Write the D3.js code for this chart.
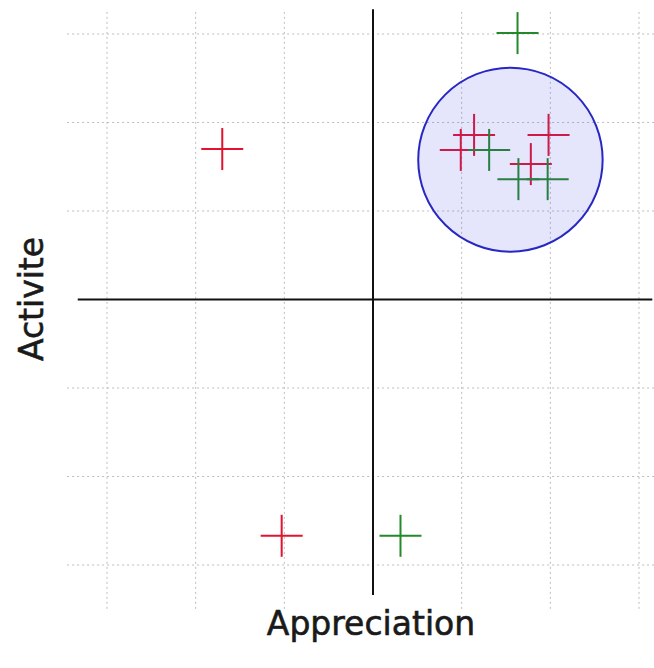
<!DOCTYPE html>
<html>
<head>
<meta charset="utf-8">
<script src="https://cdn.jsdelivr.net/npm/d3@7"></script>
<style>
  html, body { margin: 0; padding: 0; background: #fff; }
  svg { display: block; }
  .grid line { stroke: #bdbdbd; stroke-width: 1; stroke-dasharray: 2,3; }
  .axis-line { stroke: #111; stroke-width: 2; }
  .label { font-family: "DejaVu Sans", sans-serif; font-size: 33px; fill: #1a1a1a; stroke: #1a1a1a; stroke-width: 0.6px; }
</style>
</head>
<body>
<div id="chart"></div>
<script>
// data
const redX = [-1.70, -1.03, 0.99, 1.14, 1.98, 1.78];
const redY = [1.70, -2.67, 1.69, 1.86, 1.86, 1.53];
const greenX = [1.63, 0.31, 1.31, 1.64, 1.97];
const greenY = [3.01, -2.67, 1.69, 1.36, 1.36];
const gridTicks = [-3, -2, -1, 1, 2, 3];
const clusterCenter = [1.55, 1.58];
const clusterRadius = 1.04;
const xLabel = "Appreciation";
const yLabel = "Activite";

document.addEventListener('DOMContentLoaded', function() {
    render();
});

function render() {
    const width = 654, height = 668;

    const svg = d3.select("#chart")
        .append("svg")
        .attr("width", width)
        .attr("height", height);

    const x = d3.scaleLinear().domain([-3, 3]).range([107, 639]);
    const y = d3.scaleLinear().domain([-3, 3]).range([565, 34]);

    // dotted grid
    const grid = svg.append("g").attr("class", "grid");
    grid.selectAll(".gx")
        .data(gridTicks)
        .enter().append("line")
        .attr("x1", d => x(d)).attr("x2", d => x(d))
        .attr("y1", y(3.25)).attr("y2", y(-3.5));
    grid.selectAll(".gy")
        .data(gridTicks)
        .enter().append("line")
        .attr("y1", d => y(d)).attr("y2", d => y(d))
        .attr("x1", x(-3.45)).attr("x2", x(3.6));

    // axes through the origin
    svg.append("line").attr("class", "axis-line")
        .attr("x1", x(-3.33)).attr("x2", x(3.15))
        .attr("y1", y(0)).attr("y2", y(0));
    svg.append("line").attr("class", "axis-line")
        .attr("x1", x(0)).attr("x2", x(0))
        .attr("y1", y(3.28)).attr("y2", y(-3.34));

    const red = redX.map((v, i) => ({x: v, y: redY[i], color: "#e3132f"}));
    const green = greenX.map((v, i) => ({x: v, y: greenY[i], color: "#23892a"}));
    const points = red.concat(green);

    const arm = 21;
    const marks = svg.append("g");
    const cross = marks.selectAll(".cross")
        .data(points)
        .enter().append("g")
        .attr("class", "cross");
    cross.append("line")
        .attr("x1", d => x(d.x) - arm).attr("x2", d => x(d.x) + arm)
        .attr("y1", d => y(d.y)).attr("y2", d => y(d.y))
        .attr("stroke", d => d.color).attr("stroke-width", 2);
    cross.append("line")
        .attr("x1", d => x(d.x)).attr("x2", d => x(d.x))
        .attr("y1", d => y(d.y) - arm).attr("y2", d => y(d.y) + arm)
        .attr("stroke", d => d.color).attr("stroke-width", 2);

    // highlighted cluster
    svg.append("ellipse")
        .attr("cx", x(clusterCenter[0]))
        .attr("cy", y(clusterCenter[1]))
        .attr("rx", x(clusterRadius) - x(0))
        .attr("ry", y(0) - y(clusterRadius))
        .attr("fill", "#4a4ae0")
        .attr("fill-opacity", 0.14)
        .attr("stroke", "#2727c4")
        .attr("stroke-width", 2);

    svg.append("text").attr("class", "label")
        .attr("x", 371).attr("y", 635)
        .attr("text-anchor", "middle")
        .text(xLabel);

    svg.append("text").attr("class", "label")
        .attr("transform", "translate(43,299) rotate(-90)")
        .attr("text-anchor", "middle")
        .text(yLabel);
}
</script>
</body>
</html>
